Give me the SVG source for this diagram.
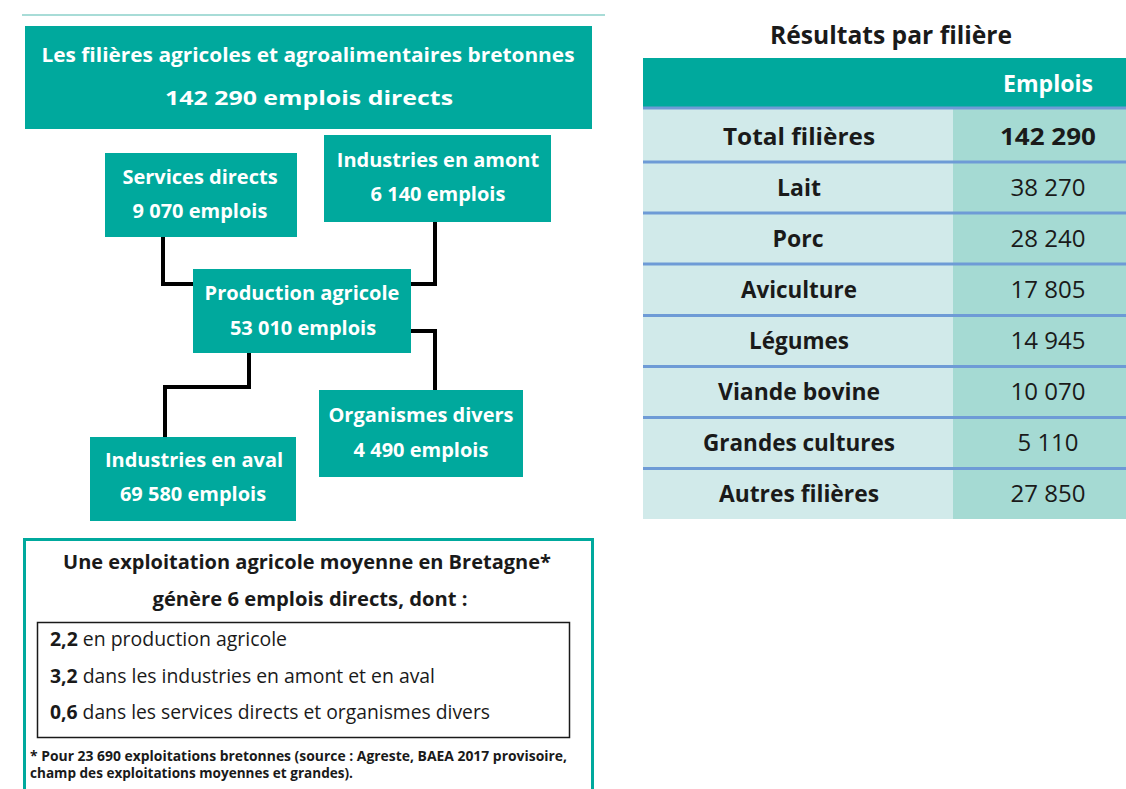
<svg xmlns="http://www.w3.org/2000/svg" width="1126" height="789" viewBox="0 0 1126 789">
<style>
.node{fill:#00a99d}
.nt{font-family:"Open Sans","Noto Sans","Liberation Sans",sans-serif;font-weight:bold;fill:#ffffff;text-anchor:middle;font-size:20px}
.conn{fill:none;stroke:#000;stroke-width:4;stroke-linejoin:miter}
.dk{font-family:"Open Sans","Noto Sans","Liberation Sans",sans-serif;fill:#1a1a1a}
.tc{font-family:"Open Sans","Noto Sans","Liberation Sans",sans-serif;font-size:23px;fill:#1a1a1a;text-anchor:middle}
.sep{stroke:#6e9bd6;stroke-width:3}
</style>
<rect width="1126" height="789" fill="#ffffff"/>
<line x1="22" y1="15" x2="605" y2="15" stroke="#a8dcd7" stroke-width="2"/>

<g id="connectors">
<polyline class="conn" points="163,237 163,284 195,284"/>
<polyline class="conn" points="435,222 435,284 409,284"/>
<polyline class="conn" points="409,331 435,331 435,392"/>
<polyline class="conn" points="249,351 249,387 165,387 165,439"/>
</g>

<g id="title">
<rect class="node" x="25" y="26" width="567" height="103"/>
<text class="nt" x="308" y="62" font-size="22.5" textLength="533" lengthAdjust="spacingAndGlyphs">Les filières agricoles et agroalimentaires bretonnes</text>
<text class="nt" x="309" y="105" font-size="29" textLength="288" lengthAdjust="spacingAndGlyphs">142 290 emplois directs</text>
</g>

<g id="services">
<rect class="node" x="105" y="153" width="192" height="84"/>
<text class="nt" x="200" y="184">Services directs</text>
<text class="nt" x="200" y="218">9 070 emplois</text>
</g>

<g id="amont">
<rect class="node" x="324" y="135" width="227" height="87"/>
<text class="nt" x="438" y="167">Industries en amont</text>
<text class="nt" x="438" y="201">6 140 emplois</text>
</g>

<g id="production">
<rect class="node" x="193" y="269" width="218" height="84"/>
<text class="nt" x="302" y="300">Production agricole</text>
<text class="nt" x="303" y="335">53 010 emplois</text>
</g>

<g id="organismes">
<rect class="node" x="319" y="390" width="204" height="87"/>
<text class="nt" x="421" y="422">Organismes divers</text>
<text class="nt" x="421" y="457">4 490 emplois</text>
</g>

<g id="aval">
<rect class="node" x="90" y="437" width="206" height="84"/>
<text class="nt" x="194" y="467">Industries en aval</text>
<text class="nt" x="193" y="501">69 580 emplois</text>
</g>

<g id="exploitation">
<rect x="24.5" y="539.5" width="568" height="260" fill="none" stroke="#00a99d" stroke-width="3"/>
<text class="dk" x="307" y="569" font-size="20" font-weight="bold" text-anchor="middle" textLength="488" lengthAdjust="spacingAndGlyphs">Une exploitation agricole moyenne en Bretagne*</text>
<text class="dk" x="310" y="606" font-size="20" font-weight="bold" text-anchor="middle" textLength="315" lengthAdjust="spacingAndGlyphs">génère 6 emplois directs, dont :</text>
<rect x="37.5" y="622.5" width="532" height="115" fill="none" stroke="#1a1a1a" stroke-width="1.5"/>
<text class="dk" x="50" y="646" font-size="19.4" textLength="237" lengthAdjust="spacingAndGlyphs"><tspan font-weight="bold">2,2</tspan> en production agricole</text>
<text class="dk" x="50" y="683" font-size="19.4" textLength="385" lengthAdjust="spacingAndGlyphs"><tspan font-weight="bold">3,2</tspan> dans les industries en amont et en aval</text>
<text class="dk" x="50" y="719" font-size="19.4" textLength="440" lengthAdjust="spacingAndGlyphs"><tspan font-weight="bold">0,6</tspan> dans les services directs et organismes divers</text>
<text class="dk" x="30" y="761" font-size="13.9" font-weight="bold" textLength="537" lengthAdjust="spacingAndGlyphs">* Pour 23 690 exploitations bretonnes (source : Agreste, BAEA 2017 provisoire,</text>
<text class="dk" x="30" y="778" font-size="13.9" font-weight="bold" textLength="323" lengthAdjust="spacingAndGlyphs">champ des exploitations moyennes et grandes).</text>
</g>

<g id="table">
<text class="dk" x="891" y="44" font-size="24.5" font-weight="bold" text-anchor="middle" textLength="242" lengthAdjust="spacingAndGlyphs">Résultats par filière</text>
<rect x="643" y="58" width="483" height="50" fill="#00a99d"/>
<text x="1048" y="92" font-family="'Open Sans','Noto Sans','Liberation Sans',sans-serif" font-size="23" font-weight="bold" fill="#ffffff" text-anchor="middle" textLength="90" lengthAdjust="spacingAndGlyphs">Emplois</text>
<rect x="643" y="108" width="310" height="411" fill="#d1eaea"/>
<rect x="953" y="108" width="173" height="411" fill="#a5dad3"/>
<line class="sep" x1="643" y1="108" x2="1126" y2="108"/>
<line class="sep" x1="643" y1="162" x2="1126" y2="162"/>
<line class="sep" x1="643" y1="213" x2="1126" y2="213"/>
<line class="sep" x1="643" y1="264" x2="1126" y2="264"/>
<line class="sep" x1="643" y1="315.5" x2="1126" y2="315.5"/>
<line class="sep" x1="643" y1="366.5" x2="1126" y2="366.5"/>
<line class="sep" x1="643" y1="417.5" x2="1126" y2="417.5"/>
<line class="sep" x1="643" y1="468.5" x2="1126" y2="468.5"/>
<g font-weight="bold">
<text class="tc" x="799" y="145" textLength="152" lengthAdjust="spacingAndGlyphs">Total filières</text>
<text class="tc" x="1048" y="145" textLength="96" lengthAdjust="spacingAndGlyphs">142 290</text>
<text class="tc" x="799" y="196">Lait</text>
<text class="tc" x="798" y="247">Porc</text>
<text class="tc" x="799" y="298" textLength="116" lengthAdjust="spacingAndGlyphs">Aviculture</text>
<text class="tc" x="799" y="349" textLength="100" lengthAdjust="spacingAndGlyphs">Légumes</text>
<text class="tc" x="799" y="400" textLength="162" lengthAdjust="spacingAndGlyphs">Viande bovine</text>
<text class="tc" x="799" y="451" textLength="192" lengthAdjust="spacingAndGlyphs">Grandes cultures</text>
<text class="tc" x="799" y="502" textLength="160" lengthAdjust="spacingAndGlyphs">Autres filières</text>
</g>
<text class="tc" x="1048" y="196" textLength="75" lengthAdjust="spacingAndGlyphs">38 270</text>
<text class="tc" x="1048" y="247" textLength="75" lengthAdjust="spacingAndGlyphs">28 240</text>
<text class="tc" x="1048" y="298" textLength="75" lengthAdjust="spacingAndGlyphs">17 805</text>
<text class="tc" x="1048" y="349" textLength="75" lengthAdjust="spacingAndGlyphs">14 945</text>
<text class="tc" x="1048" y="400" textLength="75" lengthAdjust="spacingAndGlyphs">10 070</text>
<text class="tc" x="1048" y="451" textLength="61" lengthAdjust="spacingAndGlyphs">5 110</text>
<text class="tc" x="1048" y="502" textLength="75" lengthAdjust="spacingAndGlyphs">27 850</text>
</g>
</svg>
